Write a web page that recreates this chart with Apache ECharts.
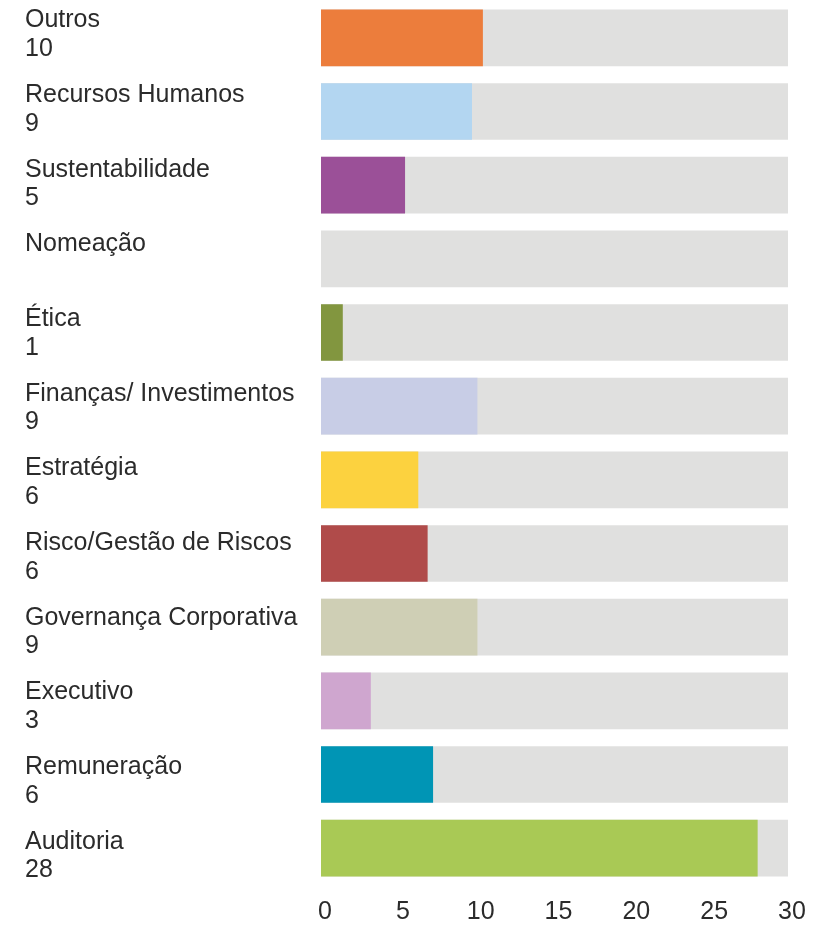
<!DOCTYPE html>
<html>
<head>
<meta charset="utf-8">
<script src="https://cdn.jsdelivr.net/npm/echarts@6/dist/echarts.min.js"></script>
<style>
  html, body { margin: 0; padding: 0; background: #fff; }
  #chart { width: 814px; height: 930px; }
</style>
</head>
<body>
<div id="chart"></div>
<script>
// categories, top to bottom
const categories = ['Outros', 'Recursos Humanos', 'Sustentabilidade', 'Nomeação', 'Ética',
  'Finanças/ Investimentos', 'Estratégia', 'Risco/Gestão de Riscos', 'Governança Corporativa',
  'Executivo', 'Remuneração', 'Auditoria']
// numbers printed under each name
const counts = [10, 9, 5, 0, 1, 9, 6, 6, 9, 3, 6, 28]
// bar lengths as drawn in the picture
const barValues = [10.4, 9.7, 5.4, 0, 1.4, 10.05, 6.25, 6.85, 10.05, 3.2, 7.2, 28.05]
const colors = ['#ec7d3c', '#b3d6f1', '#9b5098', '#e0e0df', '#82963f', '#c8cde6',
  '#fcd23f', '#b04b4a', '#cfcfb5', '#cfa6cf', '#0095b5', '#a9c955']
const xTicks = [0, 5, 10, 15, 20, 25, 30]

const chart = echarts.init(document.getElementById('chart'))
const textColor = '#2b2b2b'
const font = 'Liberation Sans, Arial, sans-serif'

// the names in the original sit on a slightly wider pitch than the bars,
// so push each label a little further down with an invisible spacer line
const rich = {
  t: { fontFamily: font, fontSize: 25, lineHeight: 28.5, color: textColor }
}
for (let i = 0; i < categories.length; i++) {
  const s = -3 + i
  rich['g' + i] = { fontSize: 1, lineHeight: Math.max(2 * Math.abs(s), 1) }
}
const labelText = (name, i) => {
  const s = -3 + i
  const body = '{t|' + name + '}\n{t|' + (counts[i] ? counts[i] : ' ') + '}'
  if (s > 0) return '{g' + i + '| }\n' + body
  if (s < 0) return body + '\n{g' + i + '| }'
  return body
}

chart.setOption({
  animation: false,
  grid: { left: 321, right: 26, top: 1, bottom: 45, outerBoundsMode: 'none' },
  xAxis: {
    type: 'value',
    min: xTicks[0],
    max: xTicks[xTicks.length - 1],
    interval: 5,
    splitLine: { show: false },
    axisLine: { show: false },
    axisTick: { show: false },
    axisLabel: {
      color: textColor,
      fontFamily: font,
      fontSize: 25,
      margin: 15,
      padding: [0, 0, 0, 8]
    }
  },
  yAxis: {
    type: 'category',
    inverse: true,
    data: categories,
    axisLine: { show: false },
    axisTick: { show: false },
    axisLabel: {
      align: 'left',
      margin: 296,
      rich: rich,
      formatter: labelText
    }
  },
  series: [
    {
      type: 'bar',
      barWidth: '77%',
      silent: true,
      showBackground: true,
      backgroundStyle: { color: '#e0e0df' },
      data: barValues.map((v, i) => ({ value: v, itemStyle: { color: colors[i] } }))
    }
  ]
})
</script>
</body>
</html>
